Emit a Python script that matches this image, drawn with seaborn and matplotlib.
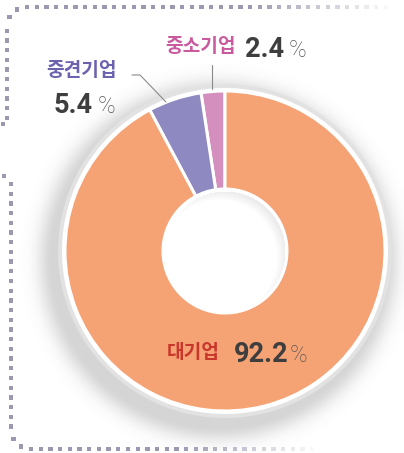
import numpy as np
import matplotlib
matplotlib.use("Agg")
import matplotlib.pyplot as plt
from matplotlib.patches import Circle
import seaborn as sns

# Company-size shares (%)
categories = ["중소기업", "중견기업", "대기업"]
shares = [2.4, 5.4, 92.2]
value_labels = ["2.4", "5.4", "92.2"]

sns.set_theme(style="white")
plt.rcParams["font.family"] = ["Noto Sans CJK KR", "DejaVu Sans"]

W, H = 404, 453
fig = plt.figure(figsize=(W / 100, H / 100), dpi=100)
ax = fig.add_axes([0, 0, 1, 1])
ax.set_facecolor("white")

palette = sns.color_palette(["#D48FBE", "#8F89C2", "#F5A274"])
label_colors = ["#C95A9E", "#6B62B0", "#C9372C"]

cx, cy = 225, H - 251
r_out, r_in = 160, 62


def sy(y):
    return H - y


# soft drop shadow under the ring (offset down-left)
yy, xx = np.mgrid[0:H, 0:W]
d = np.hypot(xx - (cx - 7), (H - yy) - (cy - 9))
alpha = np.where(d < 165, 0.30, 0.30 * np.exp(-((d - 165) / 16.0) ** 2))
shadow = np.zeros((H, W, 4))
shadow[..., :3] = 0.45
shadow[..., 3] = alpha
ax.imshow(shadow, extent=(0, W, 0, H), origin="upper", zorder=1, interpolation="bilinear")

# outer grey rim with a white gap
ax.add_patch(Circle((cx, cy), 167, color="#E2E2E2", zorder=2, lw=0))
ax.add_patch(Circle((cx, cy), 163, color="white", zorder=3, lw=0))

ax.pie(shares, colors=palette, startangle=90, counterclock=True,
       radius=r_out, center=(cx, cy),
       wedgeprops=dict(width=r_out - r_in, edgecolor="white", linewidth=2.2),
       frame=True)
for p in ax.patches[-3:]:
    p.set_zorder(4)

# white hole with a faint inner shadow toward the upper right
ax.add_patch(Circle((cx, cy), r_in - 1, color="white", zorder=5, lw=0))
d_in = np.hypot(xx - cx, (H - yy) - cy)
d_off = np.hypot(xx - (cx - 6), (H - yy) - (cy - 6))
a_in = np.where(d_in < r_in - 2, 0.11 * np.clip((d_off - 57) / 10.0, 0, 1), 0)
inner = np.zeros((H, W, 4))
inner[..., :3] = 0.3
inner[..., 3] = a_in
ax.imshow(inner, extent=(0, W, 0, H), origin="upper", zorder=6, interpolation="bilinear")

# leader lines
ax.plot([212, 212], [sy(65), sy(89)], color="#8A8A8A", lw=0.8, zorder=7)
ax.plot([132, 140, 166], [sy(75), sy(75), sy(102)], color="#8A8A8A", lw=0.8, zorder=7)

num_color = "#3E3E3E"
pct_color = "#555555"
kfs, nfs, pfs = 13.8, 19.5, 17
num_family = ["Roboto", "DejaVu Sans"]


def value_text(x, y, label, px):
    ax.text(x, sy(y), label, color=num_color, fontsize=nfs, family=num_family,
            fontweight="bold", ha="left", va="baseline", zorder=8)
    ax.text(px, sy(y), "%", color=pct_color, fontsize=pfs, family=num_family,
            fontweight="light", ha="left", va="baseline", zorder=8)


# 중소기업
ax.text(165, sy(46), categories[0], color=label_colors[0], fontsize=kfs,
        fontweight="bold", ha="left", va="center", zorder=8)
value_text(245, 57, value_labels[0], 289)

# 중견기업
ax.text(46, sy(71), categories[1], color=label_colors[1], fontsize=kfs,
        fontweight="bold", ha="left", va="center", zorder=8)
value_text(54, 113, value_labels[1], 98)

# 대기업
ax.text(167, sy(352), categories[2], color=label_colors[2], fontsize=kfs,
        fontweight="bold", ha="left", va="center", zorder=8)
value_text(234, 362, value_labels[2], 290)


# dotted decorative frame
def dotted(points, fade_from=None, fade_to=None):
    pts = np.array(points)
    al = np.ones(len(pts))
    if fade_from is not None:
        al = np.clip(1 - (pts[:, 0] - fade_from) / (fade_to - fade_from), 0, 1)
    cols = np.zeros((len(pts), 4))
    cols[:, :3] = np.array([150, 148, 172]) / 255
    cols[:, 3] = al * 0.95
    ax.scatter(pts[:, 0], H - pts[:, 1], s=10, marker="s", c=cols,
               linewidths=0, zorder=9)


step = 9.7
# upper-left piece
rc = 20
c1 = (7 + rc, 7 + rc)
pts = [(3, 124)]
for y in np.arange(118, c1[1], -step):
    pts.append((7, y))
for t in np.linspace(np.pi, 1.5 * np.pi, 4)[1:-1]:
    pts.append((c1[0] + rc * np.cos(t), c1[1] + rc * np.sin(t)))
for x in np.arange(c1[0], 395, step):
    pts.append((x, 7))
dotted(pts, fade_from=250, fade_to=395)

# lower-left piece
c2 = (11 + rc, 449 - rc)
pts = [(4, 176)]
for y in np.arange(184, c2[1], step):
    pts.append((11, y))
for t in np.linspace(np.pi, 0.5 * np.pi, 4)[1:-1]:
    pts.append((c2[0] + rc * np.cos(t), c2[1] + rc * np.sin(t)))
for x in np.arange(c2[0], 320, step):
    pts.append((x, 449))
dotted(pts, fade_from=180, fade_to=320)

ax.set_xlim(0, W)
ax.set_ylim(0, H)
ax.set_aspect("equal")
ax.axis("off")
fig.savefig("out.png", dpi=100, facecolor="white")
